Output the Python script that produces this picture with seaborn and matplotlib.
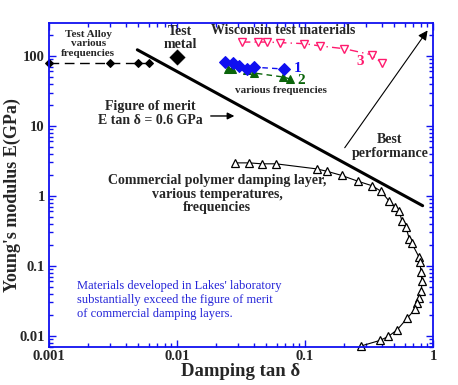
import numpy as np
import pandas as pd
import matplotlib
matplotlib.use('Agg')
import matplotlib.pyplot as plt
import seaborn as sns

# data
alloy_tan = [0.001, 0.003, 0.005, 0.006]
alloy_E = [79, 79, 79, 79]

metal_tan = [0.01]
metal_E = [97]

merit_tan = [0.0049, 0.83]
merit_E = [0.6 / 0.0049, 0.6 / 0.83]

wisc1_tan = [0.0237, 0.0275, 0.0305, 0.0350, 0.0402, 0.0687]
wisc1_E = [81, 79, 72, 65, 69, 65]

wisc2_tan = [0.0252, 0.0270, 0.0351, 0.0400, 0.0677, 0.0763]
wisc2_E = [65, 65, 63, 57, 50, 47]

wisc3_tan = [0.0322, 0.0432, 0.0502, 0.0638, 0.0982, 0.131, 0.202, 0.332, 0.397]
wisc3_E = [158, 158, 158, 155, 150, 139, 127, 104, 79]

poly_tan = [0.0284, 0.0368, 0.0459, 0.0593, 0.123, 0.149, 0.193, 0.261, 0.336, 0.393,
            0.456, 0.505, 0.546, 0.573, 0.615, 0.653, 0.682, 0.778, 0.791, 0.805,
            0.820, 0.811, 0.782, 0.753, 0.727, 0.630, 0.526, 0.448, 0.385, 0.272]
poly_E = [2.96, 2.96, 2.87, 2.87, 2.43, 2.24, 1.96, 1.61, 1.39, 1.16,
          0.834, 0.690, 0.601, 0.430, 0.355, 0.243, 0.211, 0.133, 0.113, 0.0813,
          0.0597, 0.0440, 0.0346, 0.0293, 0.0241, 0.0179, 0.0122, 0.00977, 0.00857, 0.0071]

BLUE = '#1010f0'
GREEN = '#0a640a'
PINK = '#ff1a6e'
TEXT_BLUE = '#2424d8'

sns.set_style('ticks')
plt.rcParams['font.family'] = ['Liberation Serif', 'DejaVu Serif']

fig = plt.figure(figsize=(4.58, 3.85), dpi=100)
ax = fig.add_axes([0.107, 0.0987, 0.8384, 0.8416])

ax.set_xscale('log')
ax.set_yscale('log')

line_kw = dict(ax=ax, sort=False, estimator=None, legend=False)

sns.lineplot(x=alloy_tan, y=alloy_E, color='black', lw=1.0, marker='D', markersize=4,
             markeredgecolor='black', linestyle=(0, (7, 4)), clip_on=False, **line_kw)
sns.scatterplot(x=metal_tan, y=metal_E, color='black', marker='D', s=80, ax=ax, legend=False)
sns.lineplot(x=merit_tan, y=merit_E, color='black', lw=2.2, **line_kw)
sns.lineplot(x=wisc3_tan, y=wisc3_E, color=PINK, lw=1.0, marker='v', markersize=5.5,
             markerfacecolor='white', markeredgecolor=PINK, markeredgewidth=1.0,
             linestyle=(0, (6, 3, 1, 3)), **line_kw)
sns.lineplot(x=wisc2_tan, y=wisc2_E, color=GREEN, lw=1.0, marker='^', markersize=6,
             markeredgecolor=GREEN, linestyle=(0, (4, 3)), **line_kw)
sns.lineplot(x=wisc1_tan, y=wisc1_E, color=BLUE, lw=1.0, marker='D', markersize=6.5,
             markeredgecolor=BLUE, linestyle=(0, (4, 3)), **line_kw)
sns.lineplot(x=poly_tan, y=poly_E, color='black', lw=0.8, marker='^', markersize=6,
             markerfacecolor='white', markeredgecolor='black', markeredgewidth=0.9,
             clip_on=False, **line_kw)

ax.set_xlim(0.001, 1)
ax.set_ylim(0.0069, 296)

for s in ax.spines.values():
    s.set_color(BLUE)
    s.set_linewidth(1.3)
ax.tick_params(which='both', direction='in', top=True, right=True, color=BLUE, width=1.0)
ax.tick_params(which='major', length=5, labelsize=10.5, pad=3)
ax.tick_params(axis='x', which='major', pad=2)
ax.tick_params(which='minor', length=3)
ax.set_xticks([0.001, 0.01, 0.1, 1])
ax.set_xticklabels(['0.001', '0.01', '0.1', '1'])
ax.set_yticks([0.01, 0.1, 1, 10, 100])
ax.set_yticklabels(['0.01', '0.1', '1', '10', '100'])
for lab in ax.get_xticklabels() + ax.get_yticklabels():
    lab.set_fontweight('bold')

ax.set_xlabel('Damping tan δ', fontsize=13.5, fontweight='bold')
ax.set_ylabel("Young's modulus E(GPa)", fontsize=13, fontweight='bold')
ax.xaxis.set_label_coords(0.5, -0.049)
ax.yaxis.set_label_coords(-0.073, 0.469)

bold = dict(transform=ax.transAxes, fontweight='bold', ha='center', va='center')
ax.text(0.102, 0.936, 'Test Alloy\nvarious\nfrequencies', fontsize=8, linespacing=1.1, **bold)
ax.text(0.341, 0.954, 'Test\nmetal', fontsize=10, linespacing=1.0, **bold)
ax.text(0.609, 0.976, 'Wisconsin test materials', fontsize=10, **bold)
ax.text(0.647, 0.858, '1', fontsize=11, color=BLUE, **bold)
ax.text(0.656, 0.824, '2', fontsize=11, color=GREEN, **bold)
ax.text(0.810, 0.881, '3', fontsize=11, color=PINK, **bold)
ax.text(0.603, 0.791, 'various frequencies', fontsize=8, **bold)
ax.text(0.263, 0.721, 'Figure of merit\nE tan δ = 0.6 GPa', fontsize=10, linespacing=1.05, **bold)
ax.text(0.888, 0.619, 'Best\nperformance', fontsize=10, linespacing=1.05, **bold)
ax.text(0.4375, 0.472, 'Commercial polymer damping layer,\nvarious temperatures,\nfrequencies',
        fontsize=10, linespacing=1.05, **bold)
ax.text(0.0737, 0.145, "Materials developed in Lakes' laboratory\nsubstantially exceed the figure of merit\n"
        "of commercial damping layers.", transform=ax.transAxes, fontsize=9, color=TEXT_BLUE,
        ha='left', va='center', linespacing=1.2)

ax.annotate('', xy=(0.490, 0.713), xytext=(0.414, 0.713), xycoords='axes fraction',
            arrowprops=dict(arrowstyle='-|>', color='black', lw=1.0, mutation_scale=10))
ax.annotate('', xy=(0.990, 0.984), xytext=(0.766, 0.608), xycoords='axes fraction',
            arrowprops=dict(arrowstyle='-|>', color='black', lw=0.8, mutation_scale=14))

fig.savefig('out.png', dpi=100)
